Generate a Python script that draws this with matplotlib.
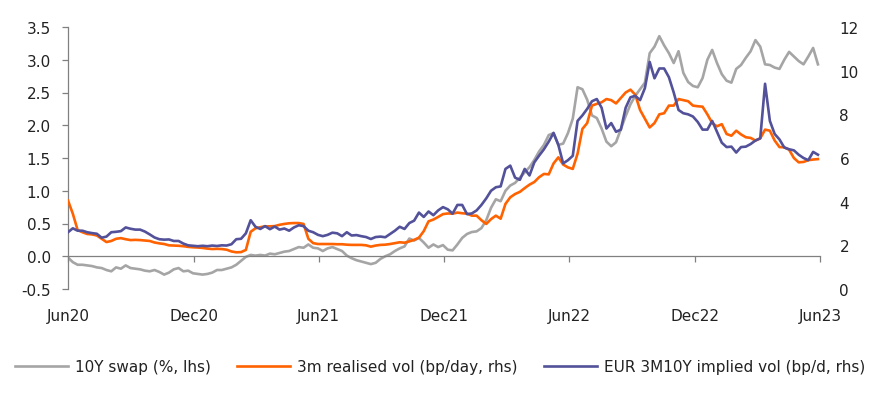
import matplotlib
matplotlib.use("Agg")
import matplotlib.pyplot as plt
import matplotlib.dates as mdates
import pandas as pd
import numpy as np

# ---- data (weekly) ----
dates = pd.date_range("2020-06-01", periods=157, freq="7D")

swap_10y = [
    -0.02, -0.09, -0.13, -0.13, -0.14, -0.15, -0.17, -0.18, -0.21, -0.23,
    -0.17, -0.19, -0.14, -0.18, -0.19, -0.20, -0.22, -0.23, -0.21, -0.24,
    -0.28, -0.25, -0.20, -0.18, -0.23, -0.22, -0.26, -0.27, -0.28, -0.27,
    -0.25, -0.21, -0.21, -0.19, -0.17, -0.13, -0.07, -0.01, 0.02, 0.01,
    0.02, 0.01, 0.04, 0.03, 0.05, 0.07, 0.08, 0.11, 0.14, 0.13,
    0.18, 0.13, 0.12, 0.08, 0.12, 0.14, 0.11, 0.08, 0.01, -0.03,
    -0.06, -0.08, -0.10, -0.12, -0.10, -0.04, 0.00, 0.03, 0.08, 0.12,
    0.15, 0.27, 0.24, 0.28, 0.21, 0.13, 0.18, 0.14, 0.17, 0.10,
    0.09, 0.18, 0.28, 0.34, 0.37, 0.38, 0.43, 0.55, 0.74, 0.87,
    0.84, 1.00, 1.08, 1.12, 1.20, 1.28, 1.36, 1.47, 1.60, 1.70,
    1.85, 1.88, 1.70, 1.72, 1.88, 2.10, 2.58, 2.55, 2.39, 2.15,
    2.11, 1.95, 1.75, 1.68, 1.74, 1.94, 2.14, 2.32, 2.45, 2.55,
    2.65, 3.10, 3.20, 3.36, 3.22, 3.10, 2.95, 3.13, 2.80, 2.66,
    2.60, 2.58, 2.72, 3.00, 3.15, 2.95, 2.78, 2.68, 2.65, 2.86,
    2.92, 3.03, 3.13, 3.30, 3.20, 2.93, 2.92, 2.88, 2.86, 3.00,
    3.12, 3.05, 2.98, 2.93, 3.05, 3.18, 2.93,
]

realised_vol = [
    4.05, 3.45, 2.70, 2.60, 2.52, 2.50, 2.45, 2.30, 2.15, 2.20,
    2.30, 2.33, 2.28, 2.24, 2.25, 2.24, 2.22, 2.20, 2.13, 2.09,
    2.06, 2.00, 1.99, 1.98, 1.96, 1.93, 1.91, 1.90, 1.88, 1.85,
    1.83, 1.84, 1.83, 1.80, 1.72, 1.68, 1.69, 1.79, 2.62, 2.78,
    2.83, 2.87, 2.87, 2.88, 2.94, 2.98, 3.01, 3.02, 3.02, 2.98,
    2.30, 2.10, 2.06, 2.06, 2.06, 2.06, 2.05, 2.05, 2.03, 2.02,
    2.02, 2.02, 2.00, 1.94, 1.99, 2.02, 2.03, 2.06, 2.10, 2.14,
    2.12, 2.18, 2.25, 2.35, 2.65, 3.10, 3.18, 3.30, 3.43, 3.46,
    3.45, 3.50, 3.47, 3.45, 3.36, 3.36, 3.15, 2.98, 3.20, 3.36,
    3.22, 3.90, 4.20, 4.35, 4.45, 4.62, 4.78, 4.90, 5.12, 5.27,
    5.25, 5.75, 6.03, 5.70, 5.57, 5.50, 6.20, 7.33, 7.60, 8.40,
    8.48, 8.55, 8.70, 8.65, 8.50, 8.75, 9.00, 9.13, 8.90, 8.20,
    7.80, 7.40, 7.60, 8.00, 8.05, 8.40, 8.40, 8.70, 8.65, 8.60,
    8.40, 8.37, 8.35, 8.00, 7.60, 7.45, 7.55, 7.10, 7.02, 7.25,
    7.08, 6.95, 6.92, 6.80, 6.90, 7.30, 7.25, 6.80, 6.50, 6.49,
    6.38, 6.00, 5.80, 5.82, 5.90, 5.93, 5.95,
]

implied_vol = [
    2.60, 2.78, 2.67, 2.67, 2.60, 2.56, 2.53, 2.35, 2.40, 2.60,
    2.62, 2.65, 2.82, 2.76, 2.72, 2.72, 2.63, 2.50, 2.36, 2.28,
    2.26, 2.27, 2.20, 2.20, 2.08, 2.00, 1.98, 1.96, 1.98, 1.96,
    1.99, 1.97, 2.00, 1.99, 2.05, 2.28, 2.30, 2.55, 3.15, 2.85,
    2.75, 2.88, 2.74, 2.86, 2.72, 2.77, 2.67, 2.82, 2.92, 2.88,
    2.67, 2.60, 2.48, 2.42, 2.48, 2.58, 2.55, 2.42, 2.60, 2.45,
    2.47, 2.42, 2.38, 2.29, 2.38, 2.40, 2.37, 2.52, 2.67, 2.85,
    2.75, 3.02, 3.13, 3.50, 3.30, 3.55, 3.38, 3.60, 3.75, 3.65,
    3.45, 3.85, 3.85, 3.43, 3.46, 3.60, 3.85, 4.15, 4.50, 4.66,
    4.70, 5.50, 5.65, 5.10, 5.00, 5.50, 5.20, 5.80, 6.11, 6.40,
    6.75, 7.15, 6.60, 5.75, 5.90, 6.10, 7.70, 7.95, 8.25, 8.60,
    8.70, 8.30, 7.35, 7.60, 7.20, 7.30, 8.30, 8.78, 8.85, 8.65,
    9.20, 10.40, 9.65, 10.10, 10.10, 9.70, 9.00, 8.20, 8.05, 8.00,
    7.90, 7.65, 7.30, 7.30, 7.70, 7.20, 6.70, 6.50, 6.52, 6.25,
    6.50, 6.52, 6.64, 6.80, 6.90, 9.40, 7.70, 7.10, 6.85, 6.48,
    6.40, 6.35, 6.15, 6.00, 5.90, 6.28, 6.15,
]

labels = ["10Y swap (%, lhs)", "3m realised vol (bp/day, rhs)",
          "EUR 3M10Y implied vol (bp/d, rhs)"]
tick_dates = pd.date_range("2020-06-01", "2023-06-01", freq="6MS")

# ---- style ----
GRAY = "#A5A5A5"
ORANGE = "#FF6200"
BLUE = "#525199"
AXIS = "#808080"
TXT = "#222222"
plt.rcParams["font.family"] = ["DejaVu Sans"]

fig = plt.figure(figsize=(8.8, 4.1), dpi=100)
ax = fig.add_axes([68/880, 1-290/410, (820-68)/880, (290-28)/410])
ax2 = ax.twinx()

l1, = ax.plot(dates, swap_10y, color=GRAY, lw=1.9, label=labels[0])
l2, = ax2.plot(dates, realised_vol, color=ORANGE, lw=1.9, label=labels[1])
l3, = ax2.plot(dates, implied_vol, color=BLUE, lw=1.9, label=labels[2])

ax.set_ylim(-0.5, 3.5)
ax.set_yticks(np.arange(-0.5, 3.51, 0.5))
ax.set_yticklabels([f"{v:.1f}" for v in np.arange(-0.5, 3.51, 0.5)])
ax2.set_ylim(0, 12)
ax2.set_yticks(range(0, 13, 2))

ax.set_xlim(tick_dates[0], tick_dates[-1])
ax.set_xticks(tick_dates)
ax.set_xticklabels([d.strftime("%b%y") for d in tick_dates])

for a in (ax, ax2):
    for s in ("top", "right"):
        a.spines[s].set_visible(False)
ax2.spines["left"].set_visible(False)
ax2.spines["bottom"].set_visible(False)

ax.spines["left"].set_color(AXIS)
ax.spines["left"].set_linewidth(0.9)
ax.spines["bottom"].set_position(("data", 0))
ax.spines["bottom"].set_color(AXIS)
ax.spines["bottom"].set_linewidth(0.9)

ax.tick_params(axis="y", direction="out", length=4.5, width=0.9, color=AXIS,
               labelsize=11, labelcolor=TXT, pad=8)
ax.tick_params(axis="x", direction="out", length=4.5, width=0.9, color=AXIS,
               labelsize=11, labelcolor=TXT, pad=33)
ax2.tick_params(axis="y", length=0, labelsize=11, labelcolor=TXT, pad=14)

ax.patch.set_visible(False)

fig.legend(handles=[l1, l2, l3], loc="center", ncol=3,
           bbox_to_anchor=(0.5, 1-368/410), frameon=False,
           fontsize=11, handlelength=3.5, handletextpad=0.45,
           columnspacing=1.7, labelcolor=TXT)

fig.savefig("out.png", dpi=100, facecolor="white")
